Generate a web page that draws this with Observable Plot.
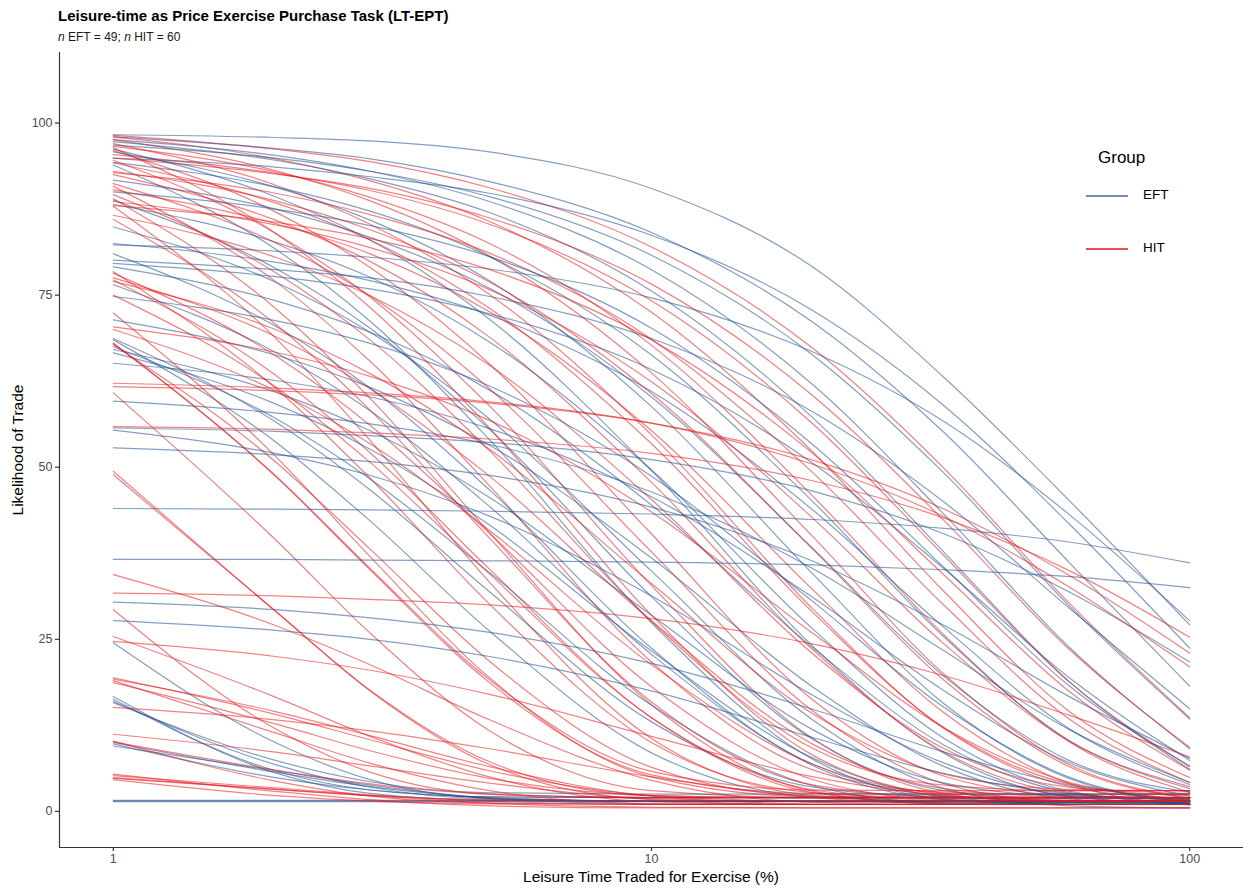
<!DOCTYPE html>
<html>
<head>
<meta charset="utf-8">
<script src="https://cdn.jsdelivr.net/npm/d3@7"></script>
<script src="https://cdn.jsdelivr.net/npm/@observablehq/plot@0.6"></script>
<style>
  body { margin: 0; background: #fff; font-family: "Liberation Sans", Arial, Helvetica, sans-serif; }
  #page { position: relative; width: 1252px; height: 892px; overflow: hidden; background: #fff; }
  .title { position: absolute; left: 58px; top: 7px; font-size: 15px; font-weight: bold; color: #000; white-space: nowrap; }
  .subtitle { position: absolute; left: 58px; top: 30px; font-size: 12px; color: #1a1a1a; white-space: nowrap; }
  #chart { position: absolute; left: 0; top: 48px; }
  .ytitle { position: absolute; left: 18px; top: 450px; font-size: 15.5px; color: #000; white-space: nowrap;
            transform: translate(-50%, -50%) rotate(-90deg); }
  .xtitle { position: absolute; left: 651px; top: 877px; font-size: 15.5px; color: #000; white-space: nowrap;
            transform: translate(-50%, -50%); }
  .legend { position: absolute; left: 1080px; top: 144px; color: #000; }
  .legend .head { position: absolute; left: 18px; top: 4px; font-size: 17px; white-space: nowrap; }
  .legend svg { position: absolute; left: 6px; }
  .legend .lab { position: absolute; left: 63px; font-size: 13.5px; white-space: nowrap; }
</style>
</head>
<body>
<div id="page">
  <div class="title">Leisure-time as Price Exercise Purchase Task (LT-EPT)</div>
  <div class="subtitle"><i>n</i> EFT = 49; <i>n</i> HIT = 60</div>
  <div id="chart"></div>
  <div class="ytitle">Likelihood of Trade</div>
  <div class="xtitle">Leisure Time Traded for Exercise (%)</div>
  <div class="legend" id="legend"></div>
</div>
<script>
// Leisure time traded (%) at which each participant's fitted demand curve is sampled
const prices = [1, 2, 3, 5, 10, 20, 35, 60, 100];

// Group labels and line colours
const groups = ["EFT", "HIT"];
const groupColors = ["#224f8a", "#e3191f"];

// Axis ticks and scale limits
const xTicks = [1, 10, 100];
const yTicks = [0, 25, 50, 75, 100];
const xDomain = [0.7943, 125.89];
const yDomain = [-5.25, 110.25];

// EFT participants: likelihood of trade at each price
const eftCurves = [
  [98.3, 97.9, 97.4, 95.8, 90.5, 79.0, 63.0, 45.0, 27.1],
  [98.0, 96.3, 94.8, 91.5, 84.1, 71.0, 55.0, 36.0, 18.2],
  [97.6, 95.3, 93.0, 88.6, 78.7, 61.9, 43.1, 23.7, 9.1],
  [97.3, 94.6, 91.9, 87.0, 75.6, 57.1, 37.6, 18.7, 6.1],
  [96.8, 94.9, 93.0, 89.3, 80.8, 66.2, 49.1, 29.7, 13.4],
  [96.2, 89.3, 83.0, 71.5, 49.5, 23.9, 8.4, 2.1, 1.1],
  [95.8, 90.7, 85.9, 77.1, 58.8, 34.4, 15.6, 4.7, 1.4],
  [94.9, 93.6, 92.2, 89.8, 83.7, 72.7, 58.9, 41.6, 23.7],
  [94.3, 90.7, 87.2, 80.6, 66.3, 44.9, 25.3, 10.2, 3.3],
  [93.9, 81.7, 71.2, 54.0, 27.4, 7.5, 1.8, 1.0, 1.0],
  [91.7, 87.5, 83.4, 76.0, 60.2, 38.1, 19.6, 7.3, 2.8],
  [88.8, 78.9, 70.2, 55.5, 31.2, 10.4, 3.0, 1.6, 1.5],
  [88.2, 82.7, 77.6, 68.2, 49.6, 26.4, 10.6, 2.9, 1.2],
  [84.9, 76.9, 69.6, 57.0, 34.9, 13.2, 3.3, 0.8, 0.5],
  [82.5, 79.8, 77.1, 72.1, 61.0, 43.7, 26.7, 11.9, 3.9],
  [82.3, 81.4, 80.5, 78.8, 74.6, 66.7, 56.6, 43.0, 27.7],
  [80.1, 78.7, 77.5, 74.8, 68.7, 58.0, 44.9, 29.4, 14.9],
  [79.6, 77.7, 75.9, 72.3, 64.2, 50.5, 35.2, 19.3, 7.4],
  [79.1, 74.2, 69.6, 61.2, 44.5, 23.7, 9.6, 2.7, 1.2],
  [76.5, 66.7, 58.2, 44.3, 22.8, 6.8, 2.2, 1.5, 1.5],
  [74.8, 71.3, 68.0, 61.8, 48.7, 30.4, 15.1, 4.9, 1.2],
  [71.4, 66.3, 61.6, 53.2, 36.8, 18.0, 6.5, 1.8, 1.1],
  [68.7, 56.6, 46.7, 31.9, 13.0, 3.5, 2.1, 2.0, 2.0],
  [68.5, 53.7, 42.2, 26.2, 8.5, 2.1, 1.5, 1.5, 1.5],
  [67.5, 57.1, 48.3, 34.7, 15.4, 3.7, 1.2, 1.0, 1.0],
  [67.1, 60.9, 55.3, 45.6, 28.5, 11.8, 4.1, 2.2, 2.0],
  [66.6, 59.2, 52.6, 41.6, 23.3, 7.7, 2.1, 1.1, 1.0],
  [65.1, 62.6, 60.2, 55.6, 45.7, 31.0, 17.5, 7.0, 2.2],
  [59.6, 57.9, 56.3, 53.3, 46.4, 35.2, 23.3, 11.8, 4.2],
  [55.7, 55.2, 54.6, 53.6, 51.1, 46.5, 40.3, 31.8, 21.7],
  [55.4, 52.0, 48.8, 42.9, 31.3, 16.8, 7.0, 2.2, 1.1],
  [52.8, 51.8, 50.8, 48.8, 44.2, 36.3, 27.0, 16.6, 7.7],
  [44.0, 43.9, 43.8, 43.6, 43.2, 42.4, 41.1, 39.1, 36.1],
  [36.6, 36.6, 36.5, 36.4, 36.2, 35.8, 35.1, 34.1, 32.5],
  [30.4, 29.3, 28.1, 26.0, 21.5, 14.8, 8.6, 3.8, 1.6],
  [27.7, 26.3, 25.0, 22.5, 17.5, 10.7, 5.5, 2.5, 1.6],
  [24.5, 10.0, 4.6, 1.9, 1.5, 1.5, 1.5, 1.5, 1.5],
  [16.7, 5.6, 2.6, 1.6, 1.5, 1.5, 1.5, 1.5, 1.5],
  [16.3, 5.9, 3.1, 2.1, 2.0, 2.0, 2.0, 2.0, 2.0],
  [16.0, 6.8, 3.5, 1.8, 1.5, 1.5, 1.5, 1.5, 1.5],
  [15.8, 7.4, 4.3, 2.7, 2.5, 2.5, 2.5, 2.5, 2.5],
  [10.0, 5.7, 3.6, 2.0, 1.5, 1.5, 1.5, 1.5, 1.5],
  [9.8, 4.9, 3.1, 2.1, 2.0, 2.0, 2.0, 2.0, 2.0],
  [9.5, 5.9, 3.8, 1.9, 1.1, 1.0, 1.0, 1.0, 1.0],
  [1.6, 1.6, 1.6, 1.6, 1.5, 1.5, 1.4, 1.3, 1.2],
  [1.5, 1.5, 1.5, 1.5, 1.5, 1.4, 1.4, 1.3, 1.2],
  [1.4, 1.4, 1.4, 1.4, 1.4, 1.4, 1.3, 1.3, 1.2],
  [90.0, 87.5, 85.1, 80.6, 70.2, 53.2, 35.4, 18.1, 6.6],
  [81.0, 70.5, 61.5, 46.7, 23.7, 6.6, 1.7, 1.0, 1.0]
];

// HIT participants: likelihood of trade at each price
const hitCurves = [
  [98.2, 96.2, 94.4, 90.6, 82.0, 67.2, 49.8, 30.1, 13.6],
  [98.0, 94.8, 91.6, 85.7, 72.5, 52.1, 31.9, 14.4, 4.9],
  [97.6, 93.1, 88.7, 80.7, 63.7, 39.8, 19.9, 6.7, 1.9],
  [97.0, 91.0, 85.3, 75.1, 54.7, 29.3, 12.0, 3.6, 1.7],
  [96.6, 92.9, 89.2, 82.5, 67.7, 45.7, 25.6, 10.0, 2.8],
  [96.0, 87.1, 79.0, 65.0, 40.3, 16.1, 5.1, 2.3, 2.0],
  [95.4, 92.7, 90.2, 85.3, 74.2, 56.2, 37.1, 18.7, 6.5],
  [94.9, 92.6, 90.5, 86.2, 76.6, 60.3, 42.2, 23.4, 9.3],
  [94.6, 84.0, 74.7, 58.9, 32.8, 10.5, 2.6, 1.1, 1.0],
  [94.2, 88.4, 83.0, 73.1, 53.4, 28.8, 12.1, 4.0, 2.2],
  [92.8, 89.8, 86.7, 81.1, 68.6, 49.1, 29.9, 13.3, 4.2],
  [92.5, 85.9, 79.9, 68.9, 47.8, 23.4, 8.6, 2.6, 1.6],
  [91.2, 82.6, 74.9, 61.4, 37.7, 14.5, 4.0, 1.3, 1.0],
  [90.8, 77.0, 65.4, 47.3, 21.7, 6.0, 2.8, 2.5, 2.5],
  [90.3, 85.4, 81.0, 72.6, 55.3, 32.1, 14.3, 4.0, 0.9],
  [89.6, 78.3, 68.5, 52.4, 27.6, 9.1, 3.8, 3.0, 3.0],
  [89.0, 73.1, 60.0, 40.5, 15.5, 2.9, 1.1, 1.0, 1.0],
  [88.6, 85.2, 81.9, 75.8, 62.4, 42.5, 24.3, 10.1, 3.6],
  [87.9, 68.8, 53.9, 33.3, 10.6, 2.3, 1.5, 1.5, 1.5],
  [86.6, 80.5, 74.9, 64.8, 45.3, 22.8, 9.1, 3.5, 2.6],
  [78.4, 61.5, 48.4, 30.1, 10.0, 2.7, 2.0, 2.0, 2.0],
  [78.2, 66.2, 56.1, 40.4, 18.1, 4.6, 1.7, 1.5, 1.5],
  [77.5, 69.0, 61.4, 48.7, 27.7, 9.7, 3.3, 2.1, 2.0],
  [77.2, 63.4, 52.1, 35.2, 13.6, 2.7, 1.1, 1.0, 1.0],
  [77.0, 70.0, 63.6, 52.6, 33.1, 14.1, 5.4, 3.2, 3.0],
  [72.4, 51.6, 37.0, 19.4, 5.0, 2.1, 2.0, 2.0, 2.0],
  [70.4, 66.7, 63.2, 56.8, 43.5, 25.8, 12.1, 4.2, 1.8],
  [68.0, 48.7, 35.1, 18.7, 5.3, 2.6, 2.5, 2.5, 2.5],
  [68.0, 48.8, 35.3, 19.1, 5.8, 3.1, 3.0, 3.0, 3.0],
  [67.8, 50.8, 38.1, 21.8, 6.4, 2.2, 2.0, 2.0, 2.0],
  [62.2, 61.5, 60.8, 59.5, 56.4, 50.4, 42.8, 32.5, 21.0],
  [61.7, 61.1, 60.5, 59.3, 56.4, 51.0, 43.9, 34.2, 23.0],
  [60.8, 39.5, 25.9, 11.7, 3.0, 2.0, 2.0, 2.0, 2.0],
  [55.9, 55.5, 55.0, 54.1, 52.0, 48.0, 42.6, 34.9, 25.3],
  [49.4, 29.1, 17.5, 6.8, 1.8, 1.5, 1.5, 1.5, 1.5],
  [48.9, 29.1, 17.6, 7.2, 2.3, 2.0, 2.0, 2.0, 2.0],
  [34.4, 27.0, 21.3, 13.3, 4.5, 1.3, 1.0, 1.0, 1.0],
  [31.7, 31.3, 30.8, 30.0, 28.0, 24.3, 19.7, 13.9, 7.9],
  [29.3, 12.0, 5.7, 2.5, 2.0, 2.0, 2.0, 2.0, 2.0],
  [25.4, 16.6, 10.9, 5.0, 1.4, 1.0, 1.0, 1.0, 1.0],
  [24.7, 22.5, 20.5, 17.0, 10.9, 5.0, 2.3, 1.6, 1.5],
  [19.4, 14.1, 10.4, 5.9, 2.3, 1.5, 1.5, 1.5, 1.5],
  [19.2, 14.5, 11.0, 6.5, 2.2, 1.1, 1.0, 1.0, 1.0],
  [19.0, 11.4, 7.0, 3.0, 1.1, 1.0, 1.0, 1.0, 1.0],
  [18.7, 12.7, 8.8, 4.8, 2.3, 2.0, 2.0, 2.0, 2.0],
  [15.1, 13.3, 11.7, 9.1, 5.0, 2.0, 1.1, 1.0, 1.0],
  [11.2, 8.6, 6.6, 4.1, 1.7, 1.0, 1.0, 1.0, 1.0],
  [10.2, 4.4, 2.2, 1.2, 1.0, 1.0, 1.0, 1.0, 1.0],
  [10.1, 6.0, 4.0, 2.5, 2.0, 2.0, 2.0, 2.0, 2.0],
  [5.4, 2.9, 1.7, 0.8, 0.5, 0.5, 0.5, 0.5, 0.5],
  [5.2, 3.4, 2.4, 1.5, 1.0, 1.0, 1.0, 1.0, 1.0],
  [4.9, 3.2, 2.3, 1.7, 1.5, 1.5, 1.5, 1.5, 1.5],
  [4.8, 3.2, 2.3, 1.2, 0.6, 0.5, 0.5, 0.5, 0.5],
  [4.6, 2.3, 1.5, 1.1, 1.0, 1.0, 1.0, 1.0, 1.0],
  [96.4, 84.0, 73.2, 55.7, 28.5, 8.1, 2.4, 1.5, 1.5],
  [93.0, 88.7, 84.5, 76.9, 60.7, 38.0, 19.0, 6.4, 1.8],
  [88.0, 85.6, 83.2, 78.7, 68.5, 51.9, 34.3, 17.3, 6.0],
  [86.0, 70.8, 58.3, 39.7, 15.9, 3.8, 2.1, 2.0, 2.0],
  [75.0, 61.7, 50.7, 34.5, 13.6, 3.1, 1.6, 1.5, 1.5],
  [70.0, 61.1, 53.4, 40.8, 21.3, 6.8, 2.6, 2.0, 2.0]
];

// Long-format table, participants of both groups interleaved so neither colour sits on top
const rows = [];
const n = Math.max(eftCurves.length, hitCurves.length);
for (let i = 0; i < n; i++) {
  [[groups[0], eftCurves[i]], [groups[1], hitCurves[i]]].forEach(([g, vals]) => {
    if (!vals) return;
    const id = g + "-" + i;
    vals.forEach((v, j) => rows.push({id, group: g, price: prices[j], likelihood: v}));
  });
}

const axisInk = "#333333";
const chart = Plot.plot({
  width: 1252,
  height: 844,
  marginTop: 4,
  marginLeft: 59,
  marginRight: 9,
  marginBottom: 45,
  style: {fontFamily: "'Liberation Sans', Arial, Helvetica, sans-serif", fontSize: "12.5px", background: "#fff", color: "#4d4d4d"},
  x: {type: "log", domain: xDomain},
  y: {domain: yDomain},
  color: {domain: groups, range: groupColors},
  marks: [
    Plot.line(rows, {
      x: "price", y: "likelihood", z: "id", stroke: "group",
      strokeOpacity: 0.55, strokeWidth: 1.2, curve: "monotone-x"
    }),
    // axis lines along the left and bottom panel edges (theme_classic style)
    Plot.ruleX([xDomain[0]], {stroke: axisInk, strokeWidth: 1.2}),
    Plot.ruleY([yDomain[0]], {stroke: axisInk, strokeWidth: 1.2}),
    Plot.axisY(yTicks, {tickSize: 4, tickPadding: 3, label: null, stroke: axisInk, strokeWidth: 1.2, fill: "#4d4d4d", tickFormat: d => String(d)}),
    Plot.axisX(xTicks, {tickSize: 4, tickPadding: 3, label: null, stroke: axisInk, strokeWidth: 1.2, fill: "#4d4d4d", tickFormat: d => String(d)})
  ]
});
document.getElementById("chart").appendChild(chart);

// Legend
const legendColors = ["#3d679c", "#e0161c"];
const legend = document.getElementById("legend");
legend.innerHTML = '<div class="head">Group</div>' + groups.map((g, i) =>
  `<svg width="42" height="4" style="top:${50 + i * 53}px"><line x1="0" x2="42" y1="2" y2="2" stroke="${legendColors[i]}" stroke-width="1.6"/></svg>` +
  `<div class="lab" style="top:${43 + i * 53}px">${g}</div>`).join("");
</script>
</body>
</html>
